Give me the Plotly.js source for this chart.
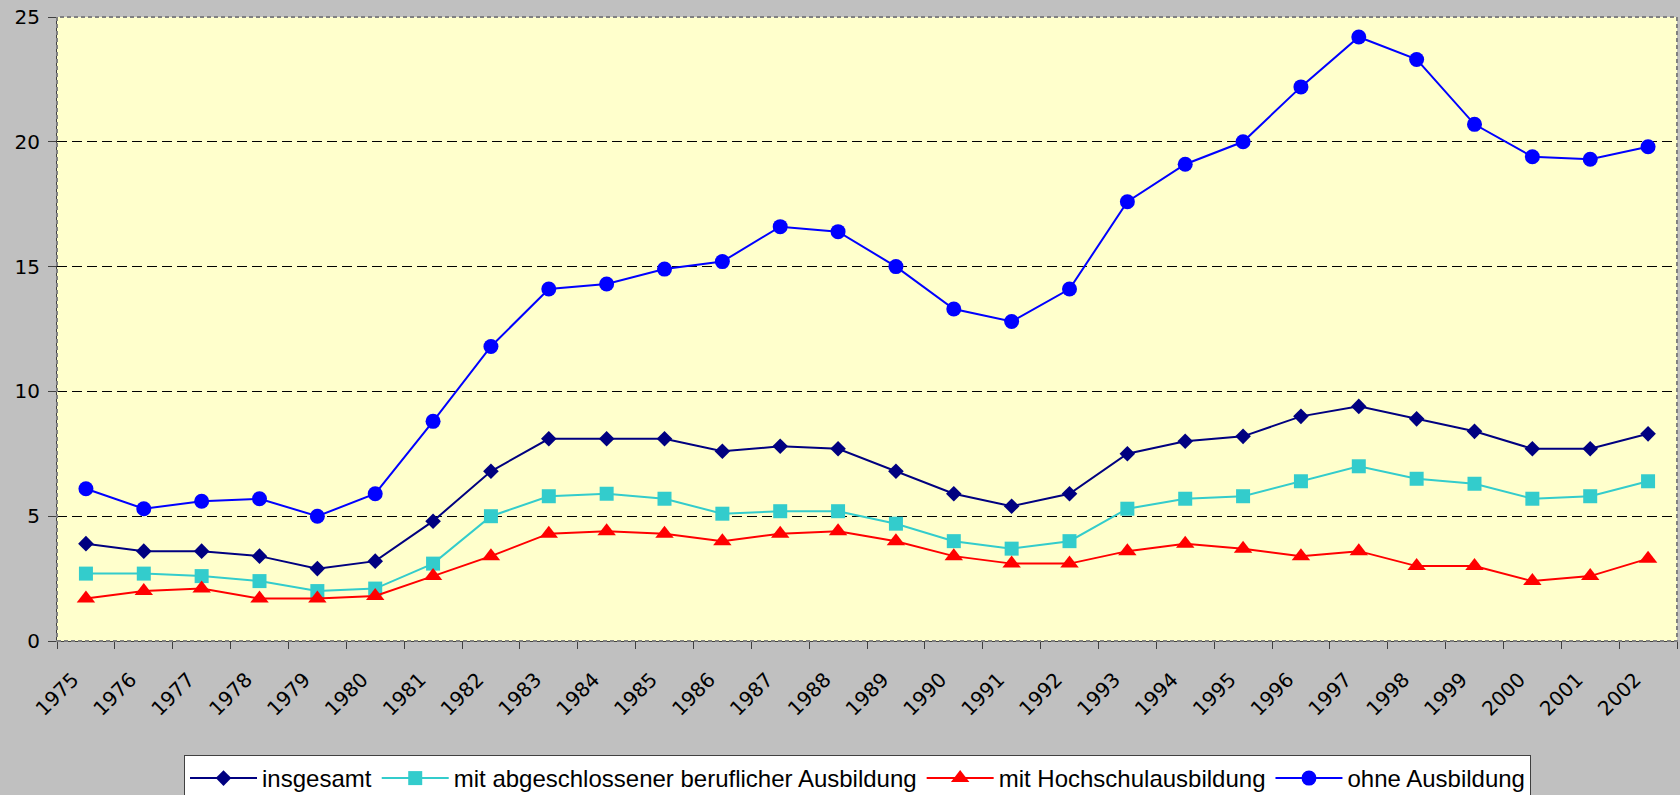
<!DOCTYPE html>
<html>
<head>
<meta charset="utf-8">
<script src="https://cdn.plot.ly/plotly-3.0.1.min.js"></script>
<style>
  html, body { margin: 0; padding: 0; background: #C0C0C0; }
  #chart { width: 1680px; height: 795px; }
</style>
</head>
<body>
<div id="chart"></div>
<script>
const years = ["1975","1976","1977","1978","1979","1980","1981","1982","1983","1984","1985","1986","1987","1988","1989","1990","1991","1992","1993","1994","1995","1996","1997","1998","1999","2000","2001","2002"];
const insgesamt = [3.9,3.6,3.6,3.4,2.9,3.2,4.8,6.8,8.1,8.1,8.1,7.6,7.8,7.7,6.8,5.9,5.4,5.9,7.5,8.0,8.2,9.0,9.4,8.9,8.4,7.7,7.7,8.3];
const beruflich = [2.7,2.7,2.6,2.4,2.0,2.1,3.1,5.0,5.8,5.9,5.7,5.1,5.2,5.2,4.7,4.0,3.7,4.0,5.3,5.7,5.8,6.4,7.0,6.5,6.3,5.7,5.8,6.4];
const hochschule = [1.7,2.0,2.1,1.7,1.7,1.8,2.6,3.4,4.3,4.4,4.3,4.0,4.3,4.4,4.0,3.4,3.1,3.1,3.6,3.9,3.7,3.4,3.6,3.0,3.0,2.4,2.6,3.3];
const ohne = [6.1,5.3,5.6,5.7,5.0,5.9,8.8,11.8,14.1,14.3,14.9,15.2,16.6,16.4,15.0,13.3,12.8,14.1,17.6,19.1,20.0,22.2,24.2,23.3,20.7,19.4,19.3,19.8];
const seriesNames = ["insgesamt","mit abgeschlossener beruflicher Ausbildung","mit Hochschulausbildung","ohne Ausbildung"];
const yTicks = [0,5,10,15,20,25];

function tr(y, name, color, symbol, size) {
  return {
    type: 'scatter', mode: 'lines+markers', x: years, y: y, name: name,
    line: {color: color, width: 2},
    marker: {color: color, symbol: symbol, size: size, line: {width: 0}}
  };
}

const data = [
  tr(insgesamt, seriesNames[0], '#000080', 'diamond', 12),
  tr(beruflich, seriesNames[1], '#33CCCC', 'square', 14),
  tr(hochschule, seriesNames[2], '#FF0000', 'triangle-up', 16),
  tr(ohne, seriesNames[3], '#0000FF', 'circle', 15)
];

const layout = {
  width: 1680, height: 795,
  margin: {l: 57, r: 3, t: 17, b: 154, pad: 0, autoexpand: false},
  paper_bgcolor: '#C0C0C0',
  plot_bgcolor: '#FFFFCC',
  showlegend: true,
  legend: {
    orientation: 'h', x: 0.0784, xanchor: 'left', y: -0.1827, yanchor: 'top',
    bgcolor: '#FFFFFF', bordercolor: '#404040', borderwidth: 1,
    font: {family: 'Liberation Sans, Arial, sans-serif', size: 24, color: '#000000'},
    itemwidth: 67, tracegroupgap: 0
  },
  xaxis: {
    type: 'category', tickson: 'boundaries',
    range: [-0.5, years.length - 0.5],
    showgrid: false, zeroline: false,
    showline: true, linecolor: '#404040', linewidth: 1,
    ticks: 'outside', ticklen: 7, tickcolor: '#404040', tickwidth: 1,
    tickangle: -45, ticklabelshift: -13, ticklabelstandoff: 18,
    tickfont: {family: 'DejaVu Sans, Verdana, sans-serif', size: 20, color: '#000000'}
  },
  yaxis: {
    range: [0, 25], tickvals: yTicks, ticktext: yTicks.map(String),
    showgrid: true, gridcolor: '#000000', gridwidth: 1, griddash: '10px,5px',
    zeroline: false,
    showline: true, linecolor: '#404040', linewidth: 1,
    ticks: 'outside', ticklen: 8, tickcolor: '#404040', tickwidth: 1,
    ticklabelstandoff: 4,
    tickfont: {family: 'DejaVu Sans, Verdana, sans-serif', size: 20, color: '#000000'}
  },
  shapes: [{
    type: 'rect', xref: 'paper', yref: 'paper', x0: 0, x1: 1, y0: 0, y1: 1,
    line: {color: '#808080', width: 2, dash: '4px,3px'}, layer: 'above'
  }]
};

Plotly.newPlot('chart', data, layout, {displayModeBar: false, staticPlot: true});
</script>
</body>
</html>
